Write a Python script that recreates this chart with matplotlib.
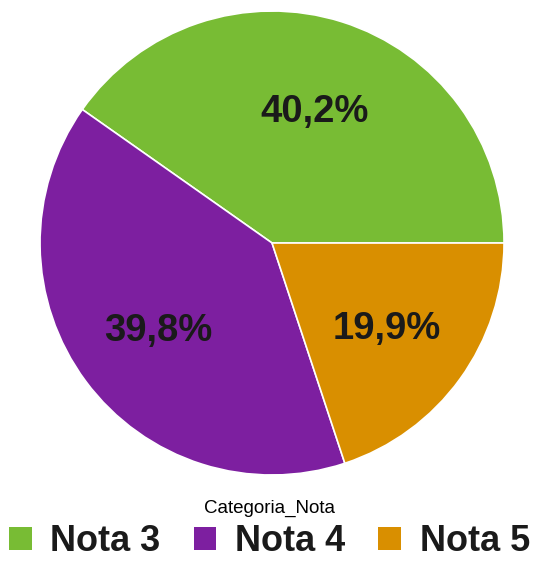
import matplotlib.pyplot as plt
from matplotlib.patches import Patch

plt.rcParams['font.family'] = ['Liberation Sans', 'DejaVu Sans']

# data
categorias = ['Nota 3', 'Nota 4', 'Nota 5']
porcentagens = [40.2, 39.8, 19.9]
cores = ['#78bc34', '#7d1fa0', '#d98f00']
titulo_legenda = 'Categoria_Nota'

fig = plt.figure(figsize=(5.39, 5.62), dpi=100)
ax = fig.add_axes([0.0742, 0.1548, 0.861, 0.8256])

wedges, texts, autotexts = ax.pie(
    porcentagens, colors=cores, startangle=0, counterclock=True,
    autopct=lambda p: '{0:.1f}%'.format(p).replace('.', ','),
    pctdistance=0.61,
    wedgeprops=dict(edgecolor='white', linewidth=1.2))
for t in autotexts:
    t.set_fontsize(27.5)
    t.set_fontweight('bold')
    t.set_color('#1a1a1a')
    x, y = t.get_position()
    t.set_position((x, y - 0.015))
ax.set_xlim(-1, 1)
ax.set_ylim(-1, 1)
ax.set_aspect('equal')

handles = [Patch(facecolor=c, edgecolor='none') for c in cores]
leg = fig.legend(handles, categorias, loc='lower center', ncol=3,
                 bbox_to_anchor=(0.5, -0.021), frameon=False,
                 title=titulo_legenda, title_fontsize=13.5,
                 prop=dict(size=26, weight='bold'),
                 handlelength=0.62, handleheight=0.62,
                 handletextpad=0.52, columnspacing=0.92,
                 borderaxespad=0.0, labelspacing=0.2)
for t in leg.get_texts():
    t.set_color('#1a1a1a')

fig.savefig('out.png', dpi=100)
